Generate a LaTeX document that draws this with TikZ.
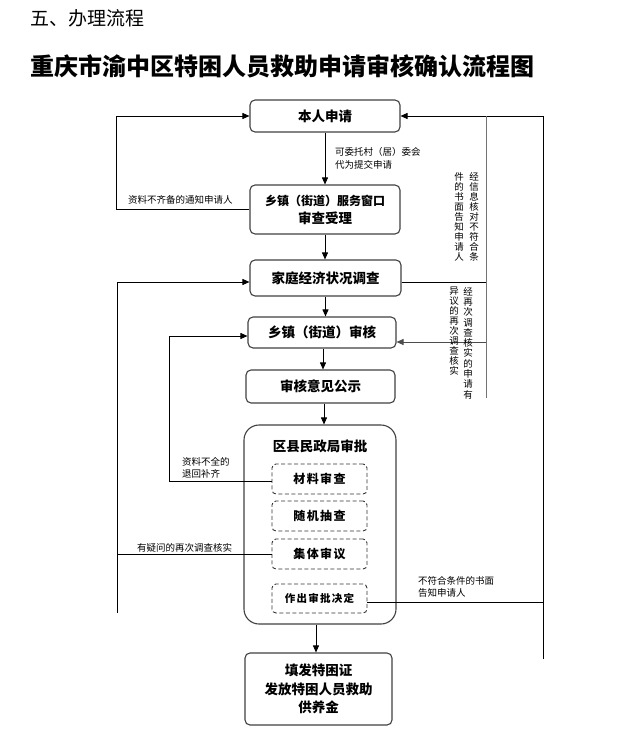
\documentclass[tikz,border=0pt]{standalone}
\usepackage{fontspec}
\setmainfont{Noto Sans CJK SC}
\newfontfamily\spacedfont{Noto Sans CJK SC}[LetterSpace=12]
\usetikzlibrary{arrows.meta,positioning}

\tikzset{
  stage/.style={draw=black!75, line width=1.1pt, rounded corners=5pt, align=center, inner sep=0pt,
    font=\fontsize{13.5}{18}\selectfont\bfseries},
  substage/.style={draw=black!80, line width=0.9pt, dash pattern=on 4pt off 2.5pt, rounded corners=4pt,
    minimum width=95pt, minimum height=30pt, inner sep=0pt, font=\fontsize{12}{12}\spacedfont\bfseries},
  flow/.style={line width=0.9pt, -{Triangle[length=7pt,width=6pt]}},
  link/.style={line width=0.9pt},
  note/.style={font=\fontsize{9.5}{12.5}\selectfont, inner sep=0pt, align=left, anchor=west},
  vnote/.style={font=\fontsize{9.5}{10}\selectfont, inner sep=0pt, align=center, anchor=north},
}

\begin{document}
\begin{tikzpicture}[x=1pt,y=-1pt]
    \useasboundingbox (0,0) rectangle (636,750);

    % Headings
    \node[anchor=west, inner sep=0pt, font=\fontsize{19}{19}\selectfont] (section) at (30,18) {五、办理流程};
    \node[anchor=west, inner sep=0pt, font=\fontsize{24}{24}\selectfont\bfseries] (title) at (30,66) {重庆市渝中区特困人员救助申请审核确认流程图};

    % Main stages
    \node[stage, minimum width=150pt, minimum height=32pt] (apply) at (325,116) {本人申请};
    \node[stage, minimum width=150pt, minimum height=49pt] (window) at (325,209.5) {{\fontsize{12}{18}\selectfont 乡镇（街道）服务窗口}\\审查受理};
    \node[stage, minimum width=151pt, minimum height=36pt] (survey) at (325.5,278) {家庭经济状况调查};
    \node[stage, minimum width=148pt, minimum height=31pt] (town) at (322,332.5) {乡镇（街道）审核};
    \node[stage, minimum width=149pt, minimum height=33pt] (notice) at (320.5,386.5) {审核意见公示};
    \node[stage, minimum width=147pt, minimum height=72pt] (issue) at (318.5,689) {填发特困证\\[0.5pt]发放特困人员救助\\[0.5pt]供养金};

    % District approval with its steps
    \node[stage, rounded corners=15pt, minimum width=152pt, minimum height=199pt] (district) at (320,524.5) {};
    \node[font=\fontsize{13.5}{13.5}\selectfont\bfseries, inner sep=0pt] (districttitle) at (320,446) {区县民政局审批};
    \node[substage] (material) at (319.5,479) {材料审查};
    \node[substage] (random) at (319.5,516) {随机抽查};
    \node[substage] (collective) at (319.5,554) {集体审议};
    \node[substage, minimum height=29pt, font=\fontsize{10.5}{10.5}\spacedfont\bfseries] (decision) at (319.5,598.5) {作出审批决定};

    % Downward flow
    \draw[flow] (apply) -- (window);
    \draw[flow] (window.south) -- (window.south |- survey.north);
    \draw[flow] (survey.south) -- (survey.south |- town.north);
    \draw[flow] ([xshift=1pt]town.south) -- ([xshift=1pt]town.south |- notice.north);
    \draw[flow] ([xshift=3.5pt]notice.south) -- ([xshift=3.5pt]notice.south |- district.north);
    \draw[flow] ([xshift=-4pt]district.south) -- ([xshift=-4pt]district.south |- issue.north);

    % Left side returns
    \draw[flow] (window.west) -- ++(-133,0) |- (apply.west);
    \coordinate (leftrail) at (117,613);
    \draw[link] (collective.west) -- (collective.west -| leftrail);
    \draw[flow] (leftrail) |- ([yshift=-4pt]survey.west);
    \draw[flow] ([yshift=-2pt]material.west) -- ++(-102,0) |- ([yshift=-3.5pt]town.west);

    % Right side returns
    \coordinate (outerrail) at (543,659);
    \draw[flow] (outerrail) |- (apply.east);
    \draw[link] ([yshift=-3.5pt]decision.east) -- ([yshift=-3.5pt]decision.east -| outerrail);
    \coordinate (innerrail) at (486,398);
    \draw[link, black!55] (innerrail |- apply.east) -- (innerrail);
    \draw[link] ([yshift=-4pt]survey.east) -- ([yshift=-4pt]survey.east -| innerrail);
    \draw[flow, black!70] ([yshift=-9.5pt]town.east -| innerrail) -- ([yshift=-9.5pt]town.east);

    % Labels
    \node[note] (delegate) at (335,158.5) {可委托村（居）委会\\代为提交申请};
    \node[note] (incomplete) at (128,200) {资料不齐备的通知申请人};
    \node[note] (supplement) at (182,468) {资料不全的\\退回补齐};
    \node[note] (doubt) at (137,548) {有疑问的再次调查核实};
    \node[note] (reject) at (418,587) {不符合条件的书面\\告知申请人};
    \node[vnote] (checkA) at (474,172) {经\\信\\息\\核\\对\\不\\符\\合\\条};
    \node[vnote] (checkB) at (459,172) {件\\的\\书\\面\\告\\知\\申\\请\\人};
    \node[vnote, font=\fontsize{9.5}{10.3}\selectfont] (objectA) at (468,287) {经\\再\\次\\调\\查\\核\\实\\的\\申\\请\\有};
    \node[vnote] (objectB) at (454,287) {异\\议\\的\\再\\次\\调\\查\\核\\实};
\end{tikzpicture}
\end{document}
